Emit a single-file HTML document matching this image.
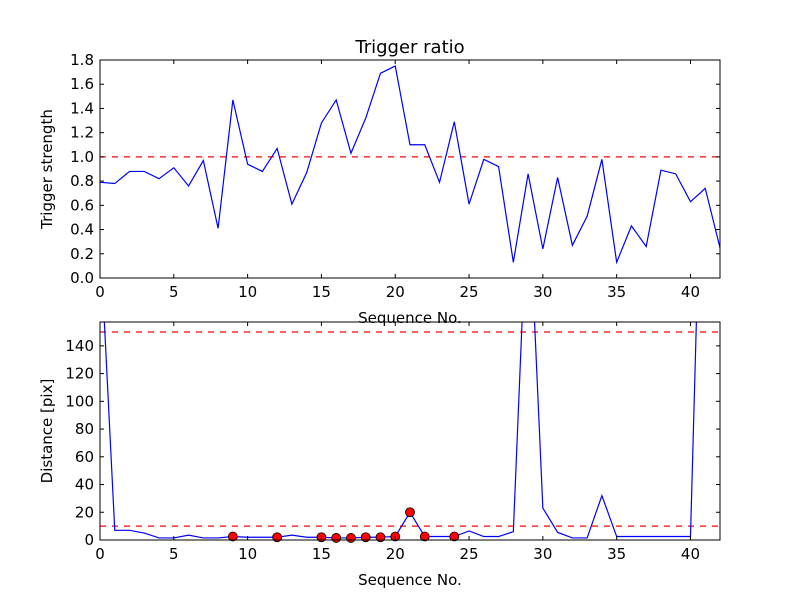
<!DOCTYPE html>
<html><head><meta charset="utf-8"><style>
body{margin:0;background:#fff}
svg{display:block;font-family:"DejaVu Sans","Liberation Sans",sans-serif}
</style></head><body>
<svg id="c" width="800" height="600" viewBox="0 0 800 600"></svg>
<script>
const seq = [0,1,2,3,4,5,6,7,8,9,10,11,12,13,14,15,16,17,18,19,20,21,22,23,24,25,26,27,28,29,30,31,32,33,34,35,36,37,38,39,40,41,42];
const strength = [0.79,0.78,0.88,0.88,0.82,0.91,0.76,0.97,0.41,1.47,0.94,0.88,1.07,0.61,0.87,1.28,1.47,1.03,1.32,1.69,1.75,1.10,1.10,0.79,1.29,0.61,0.98,0.92,0.13,0.86,0.24,0.83,0.27,0.51,0.98,0.13,0.43,0.26,0.89,0.86,0.63,0.74,0.25];
const distance = [220,7,7,5,1.5,1.5,3.5,1.5,1.5,2.5,2,2,2,3.5,2,2,1.5,1.5,2,2,2.5,20,2.5,2.5,2.5,6.5,2.5,2.5,6,262,23,5.5,1.5,1.5,32,2.5,2.5,2.5,2.5,2.5,2.5,390,390];
const markIdx = [9,12,15,16,17,18,19,20,21,22,24];
const topThreshold = [1.0];
const botThresholds = [10,150];
const xTicks = [0,5,10,15,20,25,30,35,40];
const topYTicks = ["0.0","0.2","0.4","0.6","0.8","1.0","1.2","1.4","1.6","1.8"];
const botYTicks = ["0","20","40","60","80","100","120","140"];

const NS="http://www.w3.org/2000/svg";
const svg=document.getElementById('c');
function mk(t,a,p){const e=document.createElementNS(NS,t);for(const k in a)e.setAttribute(k,a[k]);(p||svg).appendChild(e);return e;}
const L=100,R=720;
const xs=v=>L+(v-0)/(42-0)*(R-L);

function panel(T,B,ymax,name){
  const ys=v=>B-v/ymax*(B-T);
  const g=mk('g',{});
  
  
  const cid='clip-'+name;
  const cp=mk('clipPath',{id:cid},g);mk('rect',{x:L,y:T,width:R-L,height:B-T},cp);
  return {g,ys,cid,T,B};
}
function frame(p,yTicks,yTickVals,xl,yl,name){
  const {g,ys,T,B}=p;
  mk('rect',{x:L,y:T,width:R-L,height:B-T,fill:'none',stroke:'#000','stroke-width':1}, g);
  xTicks.forEach(v=>{const x=xs(v);
    mk('line',{x1:x,x2:x,y1:B,y2:B-4,stroke:'#000'},g);
    mk('line',{x1:x,x2:x,y1:T,y2:T+4,stroke:'#000'},g);
    const t=mk('text',{x:x,y:B+19,'text-anchor':'middle','font-size':15},g);t.textContent=v;
    
  });
  yTicks.forEach((s,i)=>{const y=ys(yTickVals[i]);
    mk('line',{x1:L,x2:L+4,y1:y,y2:y,stroke:'#000'},g);
    mk('line',{x1:R,x2:R-4,y1:y,y2:y,stroke:'#000'},g);
    const t=mk('text',{x:L-6,y:y+5,'text-anchor':'end','font-size':15},g);t.textContent=s;
    
  });
  const xt=mk('text',{x:(L+R)/2,y:B+45,'text-anchor':'middle','font-size':15},g);xt.textContent=xl;
  
  const yt=mk('text',{x:0,y:0,'text-anchor':'middle','font-size':15,transform:`translate(${L-48},${(T+B)/2}) rotate(-90)`},g);yt.textContent=yl;
  
}
function line(p,vals,name){
  const d=vals.map((v,i)=>(i?'L':'M')+xs(seq[i]).toFixed(2)+','+p.ys(v).toFixed(2)).join('');
  const e=mk('path',{d,fill:'none',stroke:'#0000ff','stroke-width':1.2,'clip-path':`url(#${p.cid})`},p.g);
  
}
function hline(p,v,name){
  const e=mk('line',{x1:L,x2:R,y1:p.ys(v),y2:p.ys(v),stroke:'#ff0000','stroke-width':1.2,'stroke-dasharray':'6,6'},p.g);
  
}

// top
const p1=panel(60,278,1.8,'top-panel');
hline(p1,topThreshold[0],'threshold-line');
line(p1,strength,'strength-line');
frame(p1,topYTicks,topYTicks.map(Number),'Sequence No.','Trigger strength','top');
const ttl=mk('text',{x:(L+R)/2,y:53,'text-anchor':'middle','font-size':18});ttl.textContent='Trigger ratio';


// bottom
const p2=panel(322,540,157.2,'bottom-panel');
botThresholds.forEach(v=>hline(p2,v,'distance-threshold'));
line(p2,distance,'distance-line');
markIdx.forEach(i=>{
  const c=mk('circle',{cx:xs(seq[i]),cy:p2.ys(distance[i]),r:4.5,fill:'#ff0000',stroke:'#000','stroke-width':0.8},p2.g);
  
});
frame(p2,botYTicks,botYTicks.map(Number),'Sequence No.','Distance [pix]','bottom');
</script>
</body></html>
